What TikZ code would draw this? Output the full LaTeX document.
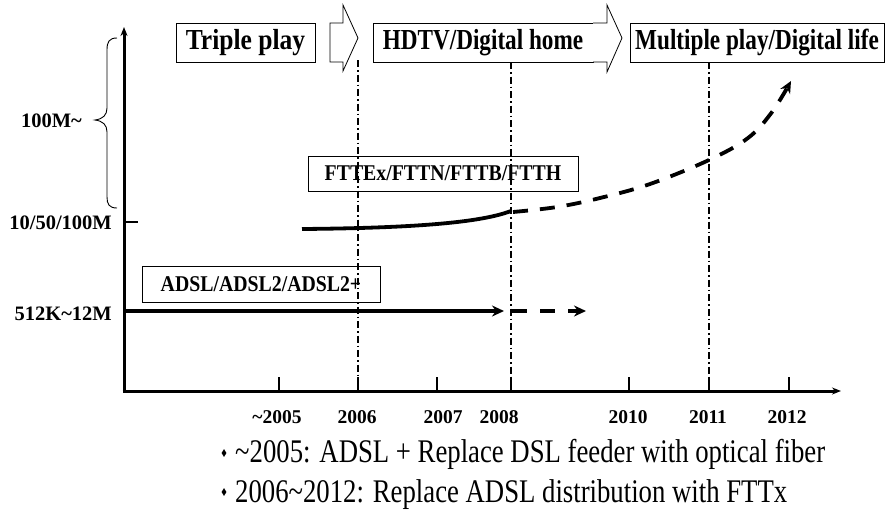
\documentclass[tikz,border=0pt]{standalone}
\usepackage{fontspec}
\setmainfont{Liberation Serif}
\newfontfamily\toplbl[FakeStretch=0.8]{Liberation Serif}
\newfontfamily\toplblwide[FakeStretch=0.88]{Liberation Serif}
\newfontfamily\boxlbl[FakeStretch=0.88]{Liberation Serif}
\newfontfamily\bulfont[FakeStretch=0.81]{Liberation Serif}
\usetikzlibrary{arrows.meta,shapes.geometric}
\begin{document}
\begin{tikzpicture}[x=1pt,y=-1pt,
  topbox/.style={draw,line width=0.8pt,minimum height=39pt,inner sep=0pt,font={\toplbl\bfseries\fontsize{29}{30}\selectfont}},
  midbox/.style={draw,line width=0.8pt,inner sep=0pt,font={\boxlbl\bfseries\fontsize{22.5}{24}\selectfont}},
  ylab/.style={anchor=base east,inner sep=0pt,font={\bfseries\fontsize{20.5}{22}\selectfont}},
  yearlab/.style={anchor=base,inner sep=0pt,font={\bfseries\fontsize{19.5}{21}\selectfont}},
  bultext/.style={anchor=base west,inner sep=0pt,font={\bulfont\fontsize{33}{36}\selectfont}},
  bulmark/.style={diamond,fill,inner sep=0pt,minimum width=5pt,minimum height=8pt},
  axisline/.style={line width=3pt,-{Stealth[length=9pt,width=7pt]}},
  ticks/.style={line width=2pt},
  dashdot/.style={line width=1.5pt,dash pattern=on 7pt off 3pt on 1.5pt off 3pt},
  thickarrow/.style={line width=3.6pt,-{Stealth[length=12pt,width=11pt]}},
  blockarrow/.style={draw,line width=0.8pt,fill=white,line join=miter}
]
\useasboundingbox (0,0) rectangle (885,517);

% axes
\coordinate (O) at (124,391);
\coordinate (Ytop) at (124,27);
\coordinate (Xend) at (841,391);
\draw[axisline] (O) -- (Ytop);
\draw[axisline] ([xshift=-1.5pt]O) -- (Xend);

% y labels and brace
\node[ylab] (l100) at (82,127) {100M\textasciitilde};
\node[ylab] (l10) at (112,229) {10/50/100M};
\node[ylab] (l512) at (112,320) {512K\textasciitilde 12M};
\draw[ticks] (124,222) -- (138,222);
\draw[line width=0.9pt] (117,38) .. controls (109,38) and (107,42) .. (107,50) -- (107,108)
  .. controls (107,115) and (103,119) .. (95,120)
  .. controls (103,121) and (107,125) .. (107,132) -- (107,197)
  .. controls (107,204) and (109,208) .. (117,208);

% x ticks and year labels
\foreach \x in {279,358,437,511,629,709,789}{
  \draw[ticks] (\x,377) -- (\x,391);
}
\node[yearlab] (y05) at (277,423) {\textasciitilde 2005};
\node[yearlab] (y06) at (357,423) {2006};
\node[yearlab] (y07) at (443,423) {2007};
\node[yearlab] (y08) at (499,423) {2008};
\node[yearlab] (y10) at (628,423) {2010};
\node[yearlab] (y11) at (708,423) {2011};
\node[yearlab] (y12) at (787,423) {2012};

% top boxes and block arrows
\node[topbox,minimum width=139pt,font={\toplblwide\bfseries\fontsize{29}{30}\selectfont}] (triple) at (245.5,42.5) {Triple play};
\node[topbox,minimum width=220pt] (hdtv) at (483,42.5) {HDTV/Digital home};
\node[topbox,minimum width=254pt] (multi) at (757,42.5) {Multiple play/Digital life};
\draw[blockarrow] (330,23) -- (343,23) -- (343,5) -- (358,38) -- (343,71) -- (343,62) -- (330,62) -- cycle;
\draw[blockarrow] (593,23) -- (607,23) -- (607,5) -- (622,38) -- (607,72) -- (607,62) -- (593,62);

% middle boxes
\node[midbox,minimum width=270pt,minimum height=35pt] (fttx) at (443,173.5) {FTTEx/FTTN/FTTB/FTTH};
\node[midbox,minimum width=238pt,minimum height=36pt] (adsl) at (261,284) {ADSL/ADSL2/ADSL2+};

% ADSL arrows
\coordinate (a0) at (124,311);
\coordinate (a1) at (504,311);
\coordinate (a2) at (512,311);
\coordinate (a3) at (586,311);
\draw[thickarrow] (a0) -- (a1);
\draw[thickarrow,dash pattern=on 15pt off 13pt] (a2) -- (a3);

% FTTx curve
\coordinate (f0) at (302,229);
\coordinate (f1) at (511,211);
\draw[line width=3.8pt] (f0) .. controls (420,228) and (482,222) .. (f1);
\draw[thickarrow,line width=3.8pt,dash pattern=on 15pt off 12pt]
  plot[smooth,tension=0.6] coordinates {(513,212) (557,207) (600,198) (650,184) (709,160) (748,138) (772,112) (791,81)};

% dash-dot year markers
\draw[dashdot] (358,60) -- (358,391);
\draw[dashdot] (511,62) -- (511,391);
\draw[dashdot] (709,62) -- (709,391);

% bullets
\node[bulmark] (b1) at (224,453) {};
\node[bulmark] (b2) at (224,492) {};
\node[bultext] (t1) at (235,462) {\textasciitilde 2005: ADSL + Replace DSL feeder with optical fiber};
\node[bultext] (t2) at (235,502) {2006\textasciitilde 2012: Replace ADSL distribution with FTTx};
\end{tikzpicture}
\end{document}
